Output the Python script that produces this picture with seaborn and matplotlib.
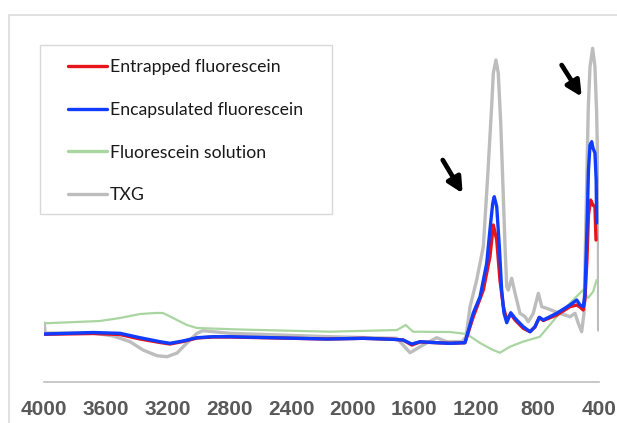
import seaborn as sns
import matplotlib.pyplot as plt
import matplotlib.patches as mpatches
import pandas as pd

# FTIR spectra, absorbance in arbitrary units
entrapped_wn = [4000, 3684, 3509, 3379, 3249, 3185, 3101, 3010, 2906, 2796, 2166, 1932,
                1738, 1673, 1617, 1563, 1455, 1369, 1272, 1218, 1153, 1110, 1088, 1066,
                1045, 1023, 1001, 975, 947, 894, 850, 818, 790, 764, 677, 591, 547, 526,
                505, 494, 481, 471, 457, 442, 429, 422]
entrapped_abs = [0.477, 0.485, 0.475, 0.43, 0.395, 0.38, 0.405, 0.44, 0.45, 0.45, 0.43, 0.437,
                 0.427, 0.42, 0.37, 0.40, 0.393, 0.387, 0.393, 0.653, 0.92, 1.253, 1.57, 1.42,
                 1.02, 0.753, 0.62, 0.68, 0.62, 0.537, 0.503, 0.55, 0.645, 0.615, 0.67, 0.753,
                 0.77, 0.75, 0.72, 0.82, 1.22, 1.67, 1.82, 1.77, 1.75, 1.42]

encapsulated_wn = [4000, 3684, 3509, 3379, 3249, 3185, 3101, 3010, 2906, 2796, 2166, 1932,
                   1738, 1673, 1617, 1563, 1455, 1369, 1272, 1218, 1174, 1131, 1110, 1092,
                   1082, 1066, 1049, 1034, 1019, 1001, 975, 947, 894, 850, 818, 790, 764,
                   677, 591, 547, 526, 505, 494, 481, 471, 461, 450, 442, 429, 421, 418]
encapsulated_abs = [0.48, 0.495, 0.487, 0.443, 0.403, 0.387, 0.41, 0.443, 0.453, 0.453, 0.43,
                    0.437, 0.427, 0.42, 0.38, 0.403, 0.393, 0.387, 0.393, 0.69, 0.853, 1.187,
                    1.52, 1.787, 1.853, 1.753, 1.353, 0.92, 0.69, 0.593, 0.693, 0.637, 0.553,
                    0.503, 0.553, 0.647, 0.62, 0.687, 0.77, 0.82, 0.77, 0.753, 0.87, 1.52,
                    2.12, 2.37, 2.403, 2.34, 2.29, 2.02, 1.59]

solution_wn = [4000, 3639, 3509, 3379, 3282, 3230, 3165, 3075, 3010, 2731, 2147, 1713,
               1656, 1609, 1369, 1261, 1174, 1090, 1045, 980, 896, 786, 677, 571, 506,
               474, 441, 418]
solution_abs = [0.587, 0.61, 0.64, 0.68, 0.69, 0.69, 0.64, 0.57, 0.54, 0.525, 0.503, 0.52,
                0.57, 0.503, 0.50, 0.48, 0.39, 0.32, 0.293, 0.353, 0.403, 0.453, 0.653,
                0.82, 0.92, 0.84, 0.903, 1.02]

txg_wn = [4000, 3995, 3684, 3553, 3444, 3360, 3269, 3204, 3139, 3075, 3010, 2971, 2796,
          2147, 1713, 1628, 1544, 1455, 1390, 1290, 1265, 1239, 1196, 1153, 1126, 1099,
          1088, 1071, 1056, 1040, 1027, 1012, 1001, 991, 969, 947, 915, 882, 861, 829,
          796, 774, 742, 656, 591, 558, 537, 515, 500, 472, 461, 444, 429, 418, 407, 405]
txg_abs = [0.59, 0.49, 0.49, 0.46, 0.403, 0.32, 0.263, 0.253, 0.29, 0.39, 0.487, 0.513,
           0.487, 0.453, 0.437, 0.293, 0.37, 0.443, 0.403, 0.405, 0.453, 0.753, 1.02,
           1.353, 2.02, 2.753, 3.09, 3.22, 3.09, 2.59, 2.02, 1.353, 0.953, 0.92, 1.037,
           0.887, 0.687, 0.653, 0.603, 0.687, 0.887, 0.753, 0.737, 0.687, 0.653, 0.687,
           0.587, 0.503, 0.69, 2.753, 3.153, 3.337, 3.153, 2.69, 1.853, 0.52]

series = [
    ("Entrapped fluorescein", entrapped_wn, entrapped_abs, "#e8141c", 2.4),
    ("Encapsulated fluorescein", encapsulated_wn, encapsulated_abs, "#0f3cff", 2.4),
    ("Fluorescein solution", solution_wn, solution_abs, "#a9d6a0", 1.6),
    ("TXG", txg_wn, txg_abs, "#bdbdbd", 2.4),
]

sns.set_style("white")
plt.rcParams['font.family'] = ['Lato', 'DejaVu Sans']

fig = plt.figure(figsize=(6.17, 4.23), dpi=100)
ax = fig.add_axes([0.0718, 0.0969, 0.8997, 0.8558])

# outer chart frame and the legend box
fig.patches.append(mpatches.Rectangle((9 / 617, -0.2), 1.2, 1.2 - 15 / 423,
                                      transform=fig.transFigure, fill=False,
                                      edgecolor="#dcdcdc", linewidth=1.2))
fig.patches.append(mpatches.Rectangle((40 / 617, 1 - 214 / 423), 292 / 617, 169 / 423,
                                      transform=fig.transFigure, fill=False,
                                      edgecolor="#d9d9d9", linewidth=1.0))

# draw order: TXG, solution, entrapped, encapsulated
for idx in [3, 2, 0, 1]:
    name, wn, ab, col, lw = series[idx]
    df = pd.DataFrame({"wavenumber": wn, "absorbance": ab})
    sns.lineplot(data=df, x="wavenumber", y="absorbance", color=col, linewidth=lw,
                 estimator=None, sort=True, ax=ax, label=name)

ax.set_xlim(4000, 400)
ax.set_ylim(0, 3.62)
ax.set_xticks(range(4000, 399, -400))
ax.set_yticks([])
ax.set_xlabel("")
ax.set_ylabel("")
for s in ["top", "left", "right"]:
    ax.spines[s].set_visible(False)
ax.spines["bottom"].set_color("#bfbfbf")
ax.spines["bottom"].set_linewidth(1.2)
ax.tick_params(axis="x", direction="out", length=6, width=1.2, color="#bfbfbf",
               labelcolor="#595959", pad=7)
for t in ax.get_xticklabels():
    t.set_fontfamily(["Liberation Sans", "DejaVu Sans"])
    t.set_fontweight("bold")
    t.set_fontsize(15)

# arrows marking the peaks
for tail, tip in [((1416, 2.22), (1287, 1.887)), ((645, 3.17), (515, 2.853))]:
    ax.annotate("", xy=tip, xytext=tail,
                arrowprops=dict(arrowstyle="-|>,head_length=0.9,head_width=0.45",
                                color="black", lw=3.4, shrinkA=0, shrinkB=0))

handles, labels = ax.get_legend_handles_labels()
order = [labels.index(s[0]) for s in series]
leg = ax.legend([handles[i] for i in order], [labels[i] for i in order],
                loc="upper left", bbox_to_anchor=(68 / 617, 1 - 59 / 423),
                bbox_transform=fig.transFigure, borderaxespad=0, borderpad=0,
                fontsize=12.7, frameon=False, handlelength=2.2, handletextpad=0.17,
                labelspacing=1.52)
for t in leg.get_texts():
    t.set_color("#1a1a1a")
for line in leg.get_lines():
    line.set_linewidth(2.4)

fig.savefig("out.png", dpi=100)
